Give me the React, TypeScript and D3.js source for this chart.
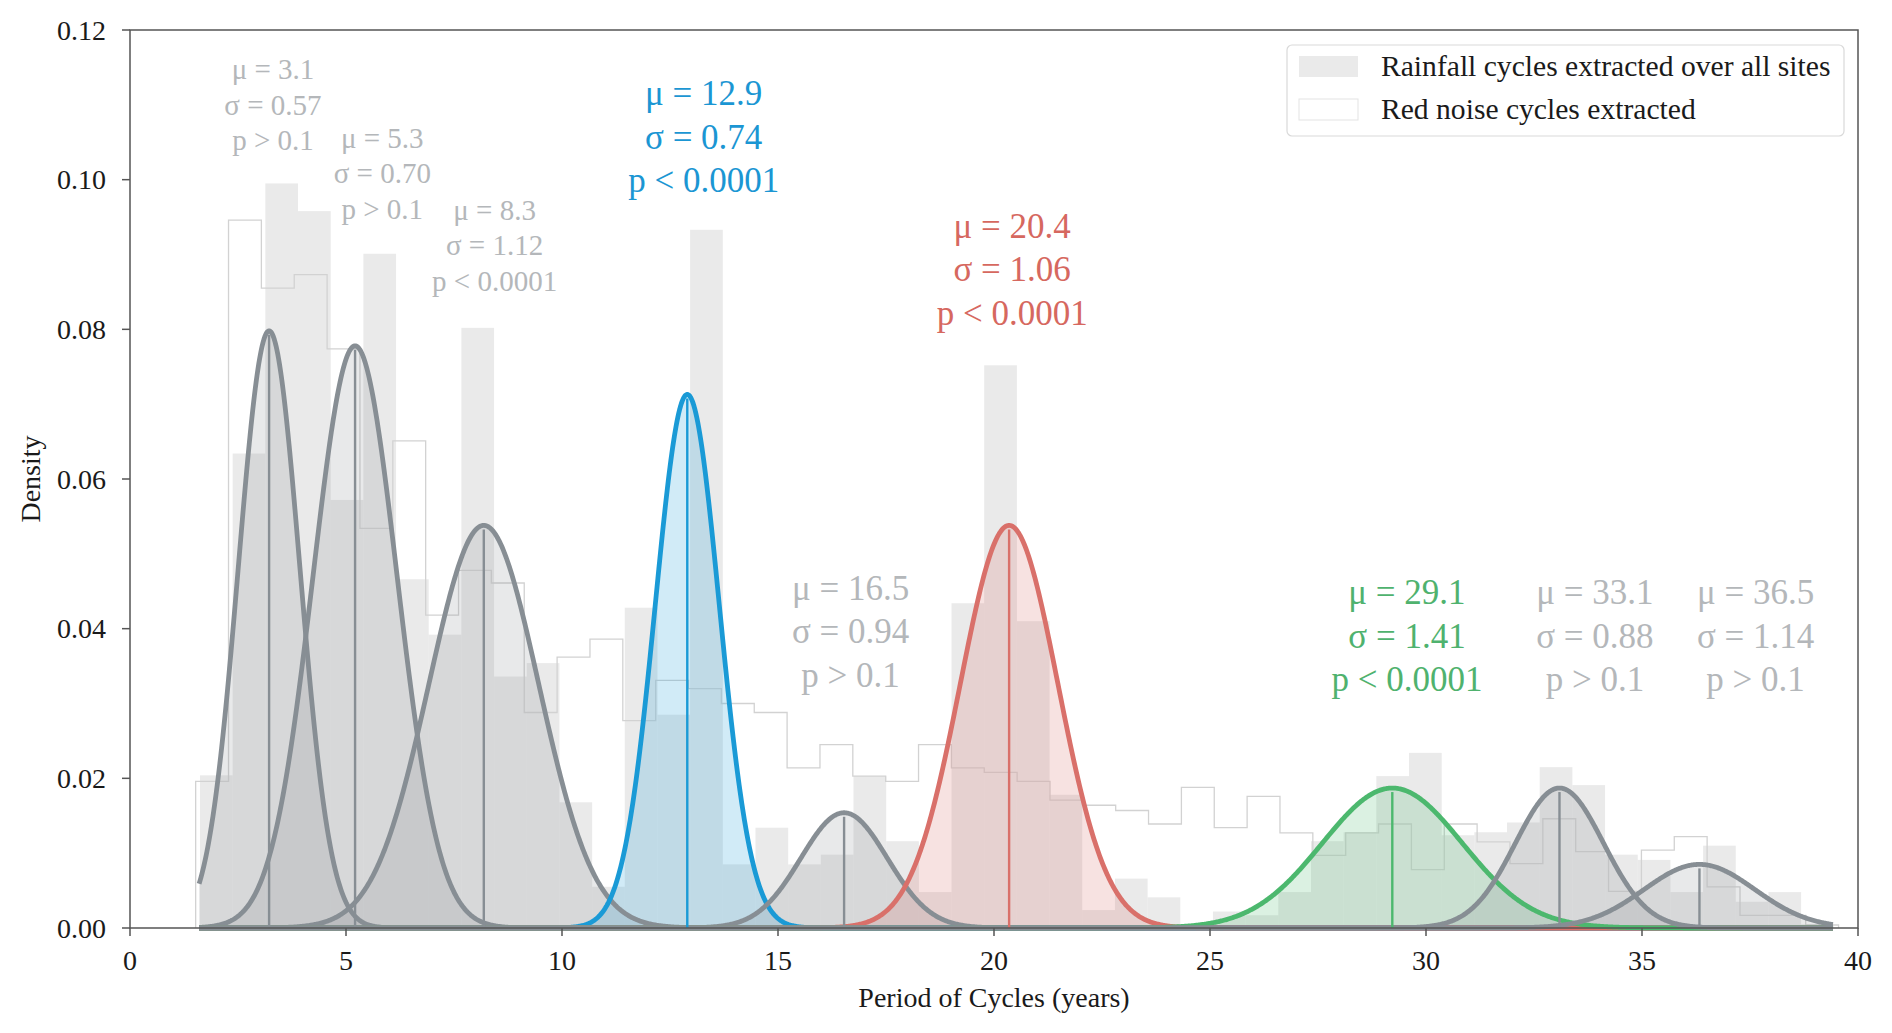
import React from "react";
import * as d3 from "d3";

// ---------- data ----------
const xTicks = [0, 5, 10, 15, 20, 25, 30, 35, 40];
const yTicks = [0, 0.02, 0.04, 0.06, 0.08, 0.1, 0.12];

// Rainfall cycles histogram (density), 50 equal bins
const rainfallRange = [1.62, 39.44];
const rainfallDensity = [
  0.0204, 0.0634, 0.0995, 0.0958, 0.0572, 0.0901, 0.0466, 0.0392, 0.0802, 0.0336,
  0.0354, 0.0168, 0.0055, 0.0428, 0.0285, 0.0933, 0.0085, 0.0134, 0.0085, 0.0098,
  0.0203, 0.0116, 0.0048, 0.0434, 0.0752, 0.041, 0.0178, 0.0024, 0.0066, 0.0041,
  0.0, 0.0022, 0.0017, 0.0048, 0.0116, 0.0128, 0.0203, 0.0234, 0.0124, 0.0128,
  0.0141, 0.0215, 0.0191, 0.0098, 0.0091, 0.0048, 0.011, 0.0035, 0.0048, 0.0005,
];

// Red noise cycles histogram (density), 50 equal bins
const redNoiseRange = [1.52, 39.55];
const redNoiseDensity = [
  0.0196, 0.0946, 0.0855, 0.0873, 0.0774, 0.0534, 0.0651, 0.0418, 0.0478, 0.0461,
  0.0288, 0.0362, 0.0386, 0.0277, 0.0331, 0.032, 0.03, 0.0288, 0.0214, 0.0245,
  0.0203, 0.0196, 0.0245, 0.0214, 0.0208, 0.0196, 0.0171, 0.0164, 0.0157, 0.0139,
  0.0188, 0.0134, 0.0176, 0.0127, 0.0097, 0.0127, 0.0139, 0.0078, 0.0139, 0.0115,
  0.0086, 0.0146, 0.0102, 0.0049, 0.0104, 0.0122, 0.0055, 0.0017, 0.0017, 0.0004,
];

// Fitted Gaussian components (as drawn)
const compMeans = [3.22, 5.21, 8.19, 12.9, 16.53, 20.35, 29.22, 33.09, 36.33];
const compPeaks = [0.0798, 0.0778, 0.0538, 0.0713, 0.0154, 0.0538, 0.0187, 0.0187, 0.0085];
const compSigmas = [0.71, 0.97, 1.27, 0.74, 1.0, 1.13, 1.62, 1.02, 1.28];
const compKind = ["gray", "gray", "gray", "blue", "gray", "red", "green", "gray", "gray"];
const curveRange = [1.6, 39.42];

// Annotation texts
const muLabels = ["3.1", "5.3", "8.3", "12.9", "16.5", "20.4", "29.1", "33.1", "36.5"];
const sigmaLabels = ["0.57", "0.70", "1.12", "0.74", "0.94", "1.06", "1.41", "0.88", "1.14"];
const pLabels = ["p > 0.1", "p > 0.1", "p < 0.0001", "p < 0.0001", "p > 0.1", "p < 0.0001", "p < 0.0001", "p > 0.1", "p > 0.1"];
// anchor of first text line in data coordinates (years, density)
const labelX = [3.31, 5.84, 8.44, 13.28, 16.68, 20.42, 29.56, 33.91, 37.63];
const labelY = [0.1148, 0.1056, 0.096, 0.1116, 0.0455, 0.0939, 0.0449, 0.0449, 0.0449];
const labelSmall = [true, true, true, false, false, false, false, false, false];

const legendLabels = ["Rainfall cycles extracted over all sites", "Red noise cycles extracted"];

// ---------- styles ----------
const W = 1892;
const H = 1033;
const M = { left: 130, right: 1858, top: 30, bottom: 928 };
const FONT = "'Liberation Serif', 'Times New Roman', Times, serif";

const palette: Record<string, { stroke: string; fill: string; text: string }> = {
  gray: { stroke: "#878e94", fill: "#8a9096", text: "#b4b7ba" },
  blue: { stroke: "#1a9ad6", fill: "#1a9ad6", text: "#1b96d3" },
  red: { stroke: "#d9706a", fill: "#d9706a", text: "#d6685f" },
  green: { stroke: "#4cb86e", fill: "#4cb86e", text: "#4fb26e" },
};

export default function App() {
  const x = d3.scaleLinear().domain([0, 40]).range([M.left, M.right]);
  const y = d3.scaleLinear().domain([0, 0.12]).range([M.bottom, M.top]);

  const binsOf = (range: number[], n: number) => {
    const w = (range[1] - range[0]) / n;
    return d3.range(n).map((i) => [range[0] + i * w, range[0] + (i + 1) * w]);
  };
  const rainBins = binsOf(rainfallRange, rainfallDensity.length);
  const noiseBins = binsOf(redNoiseRange, redNoiseDensity.length);

  // red noise step outline
  let stepD = `M${x(noiseBins[0][0])},${y(0)}`;
  noiseBins.forEach((b, i) => {
    stepD += `L${x(b[0])},${y(redNoiseDensity[i])}L${x(b[1])},${y(redNoiseDensity[i])}`;
  });
  stepD += `L${x(noiseBins[noiseBins.length - 1][1])},${y(0)}`;

  const xs = d3.range(curveRange[0], curveRange[1] + 1e-9, 0.02);
  const comps = compMeans.map((mu, i) => {
    const pts: [number, number][] = xs.map((v) => [
      v,
      compPeaks[i] * Math.exp(-((v - mu) ** 2) / (2 * compSigmas[i] ** 2)),
    ]);
    return { mu, peak: compPeaks[i], pts, kind: compKind[i] };
  });
  const area = d3
    .area<[number, number]>()
    .x((d) => x(d[0]))
    .y0(y(0))
    .y1((d) => y(d[1]));
  const line = d3
    .line<[number, number]>()
    .x((d) => x(d[0]))
    .y((d) => y(d[1]));

  return (
    <svg
      width={W}
      height={H}
      style={{ position: "absolute", left: 0, top: 0, background: "#fff" }}
      fontFamily={FONT}
    >
      <rect x={0} y={0} width={W} height={H} fill="#fff" />
      {/* rainfall histogram */}
      <g>
        {rainBins.map((b, i) => (
          <rect
            key={i}
            x={x(b[0])}
            y={y(rainfallDensity[i])}
            width={x(b[1]) - x(b[0])}
            height={y(0) - y(rainfallDensity[i])}
            fill="#dcdcdc"
            fillOpacity={0.6}
          />
        ))}
      </g>
      {/* red noise step */}
      <path d={stepD} fill="none" stroke="#d2d2d2" strokeWidth={1.3} />
      {/* gaussian fills */}
      {comps.map((c, i) => (
        <path key={"f" + i} d={area(c.pts) || ""} fill={palette[c.kind].fill} fillOpacity={0.2} />
      ))}
      {/* gaussian curves */}
      {comps.map((c, i) => (
        <path
          key={"c" + i}
          d={line(c.pts) || ""}
          fill="none"
          stroke={palette[c.kind].stroke}
          strokeWidth={4.8}
          strokeLinejoin="round"
        />
      ))}
      {/* mean lines */}
      {comps.map((c, i) => (
        <line
          key={"m" + i}
          x1={x(c.mu)}
          x2={x(c.mu)}
          y1={y(0)}
          y2={y(c.peak) + 4}
          stroke={palette[c.kind].stroke}
          strokeWidth={2.4}
        />
      ))}
      {/* annotations */}
      {muLabels.map((mu, i) => {
        const small = labelSmall[i];
        const fs = small ? 29 : 35;
        const lh = small ? 35.5 : 43.5;
        const cx = x(labelX[i]);
        const cy = y(labelY[i]);
        const lines = [`μ = ${mu}`, `σ = ${sigmaLabels[i]}`, pLabels[i]];
        return (
          <text
            key={"t" + i}
            textAnchor="middle"
            fontSize={fs}
            fill={palette[compKind[i]].text}
          >
            {lines.map((t, j) => (
              <tspan key={j} x={cx} y={cy + j * lh} dy="0.35em">
                {t}
              </tspan>
            ))}
          </text>
        );
      })}
      {/* spines */}
      <rect
        x={M.left}
        y={M.top}
        width={M.right - M.left}
        height={M.bottom - M.top}
        fill="none"
        stroke="#555"
        strokeWidth={1.5}
      />
      {/* axes ticks */}
      {xTicks.map((t) => (
        <g key={"xt" + t}>
          <line x1={x(t)} x2={x(t)} y1={M.bottom} y2={M.bottom + 8} stroke="#555" strokeWidth={1.5} />
          <text x={x(t)} y={M.bottom + 32} dy="0.35em" textAnchor="middle" fontSize={28} fill="#1a1a1a">
            {d3.format("d")(t)}
          </text>
        </g>
      ))}
      {yTicks.map((t) => (
        <g key={"yt" + t}>
          <line x1={M.left - 8} x2={M.left} y1={y(t)} y2={y(t)} stroke="#555" strokeWidth={1.5} />
          <text x={M.left - 24} y={y(t)} dy="0.35em" textAnchor="end" fontSize={28} fill="#1a1a1a">
            {d3.format(".2f")(t)}
          </text>
        </g>
      ))}
      <text x={(M.left + M.right) / 2} y={997} dy="0.35em" textAnchor="middle" fontSize={28} fill="#1a1a1a">
        Period of Cycles (years)
      </text>
      <text
        transform={`translate(30,${(M.top + M.bottom) / 2}) rotate(-90)`}
        dy="0.35em"
        textAnchor="middle"
        fontSize={28}
        fill="#1a1a1a"
      >
        Density
      </text>
      {/* legend */}
      <g>
        <rect x={1287} y={45} width={557} height={91} rx={5} fill="#fff" fillOpacity={0.85} stroke="#d9d9d9" strokeWidth={1.2} />
        <rect x={1299} y={56} width={59} height={21} fill="#dcdcdc" fillOpacity={0.6} />
        <rect x={1299} y={99} width={59} height={21} fill="#fff" stroke="#e3e3e3" strokeWidth={1} />
        <text x={1381} y={66} dy="0.35em" fontSize={29.6} fill="#1a1a1a">
          {legendLabels[0]}
        </text>
        <text x={1381} y={108.5} dy="0.35em" fontSize={29.6} fill="#1a1a1a">
          {legendLabels[1]}
        </text>
      </g>
    </svg>
  );
}
